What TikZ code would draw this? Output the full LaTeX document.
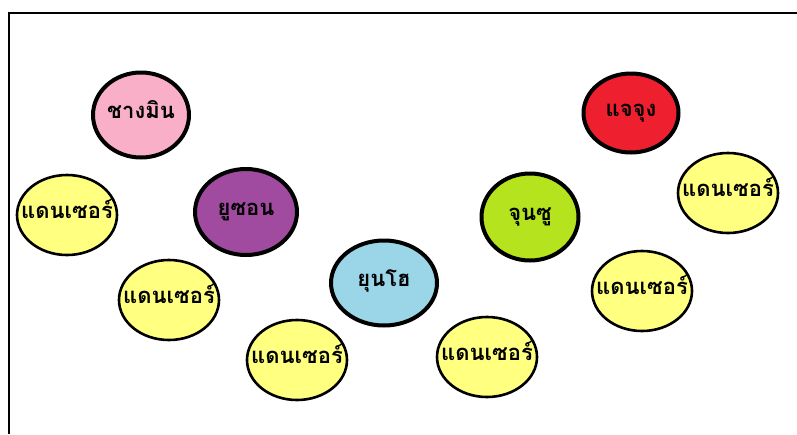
\documentclass[tikz,border=0pt]{standalone}
\usepackage{fontspec}
\newfontfamily\thaifont[Script=Thai]{Loma}
\usetikzlibrary{shapes.geometric}
\definecolor{pinkfill}{RGB}{249,175,200}
\definecolor{purplefill}{RGB}{160,74,160}
\definecolor{bluefill}{RGB}{154,213,232}
\definecolor{greenfill}{RGB}{181,227,30}
\definecolor{redfill}{RGB}{238,32,48}
\definecolor{yellowfill}{RGB}{255,255,128}
\newcommand{\tname}[1]{\makebox[0pt]{#1}}

\begin{document}
\begin{tikzpicture}[x=1pt,y=-1pt]
\tikzstyle{member}=[draw=black,ellipse,line width=4pt,inner sep=0pt,font=\thaifont\bfseries\fontsize{22}{22}\selectfont,text height=6pt,text depth=0pt]
\tikzstyle{dancer}=[draw=black,ellipse,line width=2.6pt,fill=yellowfill,inner sep=0pt,minimum width=100pt,minimum height=80pt,font=\thaifont\bfseries\fontsize{22}{22}\selectfont,text height=6pt,text depth=0pt]
\useasboundingbox (0,0) rectangle (797,434);
\draw [line width=1.6pt] (797,13) -- (9,13) -- (9,434);
% members
\node [member,fill=pinkfill,minimum width=96pt,minimum height=85pt] at (141,115) (m1) {\tname{ชางมิน}};
\node [member,fill=purplefill,minimum width=102pt,minimum height=86pt] at (246,212) (m2) {\tname{ยูซอน}};
\node [member,fill=bluefill,minimum width=106pt,minimum height=85pt] at (384,283) (m3) {\tname{ยุนโฮ}};
\node [member,fill=greenfill,minimum width=97pt,minimum height=87pt] at (530,217) (m4) {\tname{จุนซู}};
\node [member,fill=redfill,minimum width=95pt,minimum height=79pt] at (631,113) (m5) {\tname{แจจุง}};
% dancers
\node [dancer] at (67,215) (d1) {\tname{แดนเซอร์}};
\node [dancer] at (169,300) (d2) {\tname{แดนเซอร์}};
\node [dancer] at (297,360) (d3) {\tname{แดนเซอร์}};
\node [dancer] at (487,357) (d4) {\tname{แดนเซอร์}};
\node [dancer] at (642,291) (d5) {\tname{แดนเซอร์}};
\node [dancer] at (728,193) (d6) {\tname{แดนเซอร์}};
\end{tikzpicture}
\end{document}
